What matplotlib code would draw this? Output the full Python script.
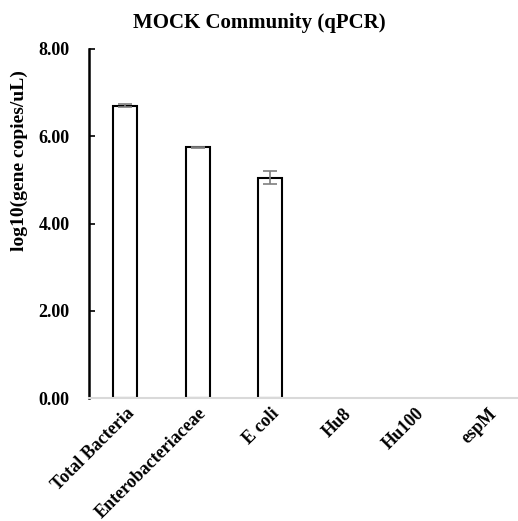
import matplotlib
matplotlib.use("Agg")
import matplotlib.pyplot as plt
import numpy as np

categories = ["Total Bacteria", "Enterobacteriaceae", "E coli", "Hu8", "Hu100", "espM"]
values = [6.70, 5.75, 5.05, 0.0, 0.0, 0.0]
errors = [0.04, 0.01, 0.15, 0.0, 0.0, 0.0]
yticks = [0, 2, 4, 6, 8]

plt.rcParams["font.family"] = ["Liberation Serif", "DejaVu Serif"]
plt.rcParams["font.weight"] = "bold"

fig = plt.figure(figsize=(5.18, 5.21), dpi=100)
ax = fig.add_axes([0.172, 0.236, 0.84, 0.67])

x = np.arange(len(categories))
# empty targets have no bar outline, only the axis line shows
edge_widths = [1.5 if v > 0 else 0 for v in values]
ax.bar(x, values, width=0.33, color="white", edgecolor="black", linewidth=edge_widths)
has_err = [i for i, v in enumerate(values) if v > 0]
ax.errorbar(x[has_err], np.array(values)[has_err], yerr=np.array(errors)[has_err],
            fmt="none", ecolor="#7f7f7f", elinewidth=1.2, capsize=5, capthick=1.2)

ax.set_xlim(-0.5, 5.5)
ax.set_ylim(0, 8)
ax.set_yticks(yticks)
ax.set_yticklabels([f"{t:.2f}" for t in yticks], fontsize=13, fontweight="bold")
ax.set_xticks(x)
ax.set_xticklabels(categories, rotation=45, ha="right", rotation_mode="anchor",
                   fontsize=13, fontweight="bold")
ax.tick_params(axis="x", length=0, pad=5)
ax.tick_params(axis="y", direction="in", length=4, width=1.2, pad=14)

ax.spines["top"].set_visible(False)
ax.spines["right"].set_visible(False)
ax.spines["left"].set_linewidth(1.8)
ax.spines["bottom"].set_color("#d9d9d9")
ax.spines["bottom"].set_linewidth(1.5)

ax.set_ylabel("log10(gene copies/uL)", fontsize=14, fontweight="bold")
ax.yaxis.set_label_coords(-0.140, 0.679)
fig.suptitle("MOCK Community (qPCR)", x=0.5, y=0.975, fontsize=15, fontweight="bold")

fig.savefig("out.png", dpi=100)
